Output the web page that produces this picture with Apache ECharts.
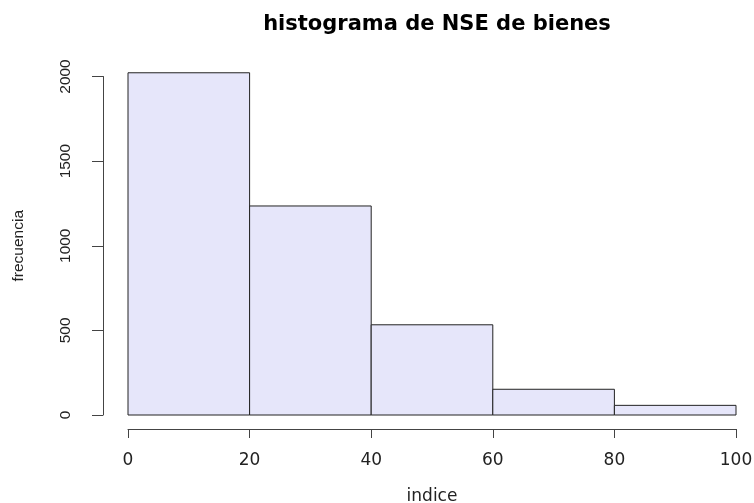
<!DOCTYPE html>
<html>
<head>
<meta charset="utf-8">
<script src="https://cdn.jsdelivr.net/npm/echarts@6/dist/echarts.min.js"></script>
<style>
  html, body { margin: 0; padding: 0; background: #fff; }
  #chart { width: 754px; height: 503px; }
</style>
</head>
<body>
<div id="chart"></div>
<script>
// bin edges and counts
var binStarts = [0, 20, 40, 60, 80];
var binEnds = [20, 40, 60, 80, 100];
var counts = [2022, 1235, 533, 152, 57];
var xTicks = [0, 20, 40, 60, 80, 100];
var yTicks = [0, 500, 1000, 1500, 2000];

var histData = [];
for (var i = 0; i < counts.length; i++) {
    histData.push([binStarts[i], binEnds[i], counts[i]]);
}

var chart = echarts.init(document.getElementById('chart'));
var option = {
    animation: false,
    backgroundColor: '#fff',
    title: {
        text: 'histograma de NSE de bienes',
        left: 432,
        top: 9,
        textAlign: 'center',
        textStyle: {
            fontFamily: 'DejaVu Sans',
            fontWeight: 'bold',
            fontSize: 21,
            color: '#000'
        }
    },
    grid: {
        left: 128,
        right: 18,
        top: 76.5,
        bottom: 88,
        outerBoundsMode: 'none'
    },
    xAxis: {
        type: 'value',
        min: xTicks[0],
        max: xTicks[xTicks.length - 1],
        interval: 20,
        offset: 14,
        name: 'indice',
        nameLocation: 'middle',
        nameGap: 59,
        nameTextStyle: { fontFamily: 'DejaVu Sans', fontSize: 17, color: '#222' },
        splitLine: { show: false },
        axisLine: { show: true, onZero: false, lineStyle: { color: '#444', width: 1 } },
        axisTick: { show: true, inside: false, length: 9, lineStyle: { color: '#444' } },
        axisLabel: { margin: 23, fontFamily: 'DejaVu Sans', fontSize: 17, color: '#222' }
    },
    yAxis: {
        type: 'value',
        min: yTicks[0],
        max: yTicks[yTicks.length - 1],
        interval: 500,
        offset: 25,
        name: 'frecuencia',
        nameLocation: 'middle',
        nameGap: 76,
        nameTextStyle: { fontFamily: 'Liberation Sans', fontSize: 15.5, color: '#222' },
        splitLine: { show: false },
        axisLine: { show: true, onZero: false, lineStyle: { color: '#444', width: 1 } },
        axisTick: { show: true, inside: false, length: 11, lineStyle: { color: '#444' } },
        axisLabel: {
            rotate: 90, margin: 29, fontFamily: 'Liberation Sans', fontSize: 15.5, color: '#222',
            formatter: function (v) { return String(v); }
        }
    },
    series: [{
        type: 'custom',
        clip: false,
        data: histData,
        encode: { x: [0, 1], y: 2 },
        renderItem: function (params, api) {
            var p0 = api.coord([api.value(0), api.value(2)]);
            var p1 = api.coord([api.value(1), 0]);
            return {
                type: 'rect',
                shape: { x: p0[0], y: p0[1], width: p1[0] - p0[0], height: p1[1] - p0[1] },
                style: { fill: '#E6E6FA', stroke: '#222', lineWidth: 1 }
            };
        }
    }]
};
chart.setOption(option);
</script>
</body>
</html>
